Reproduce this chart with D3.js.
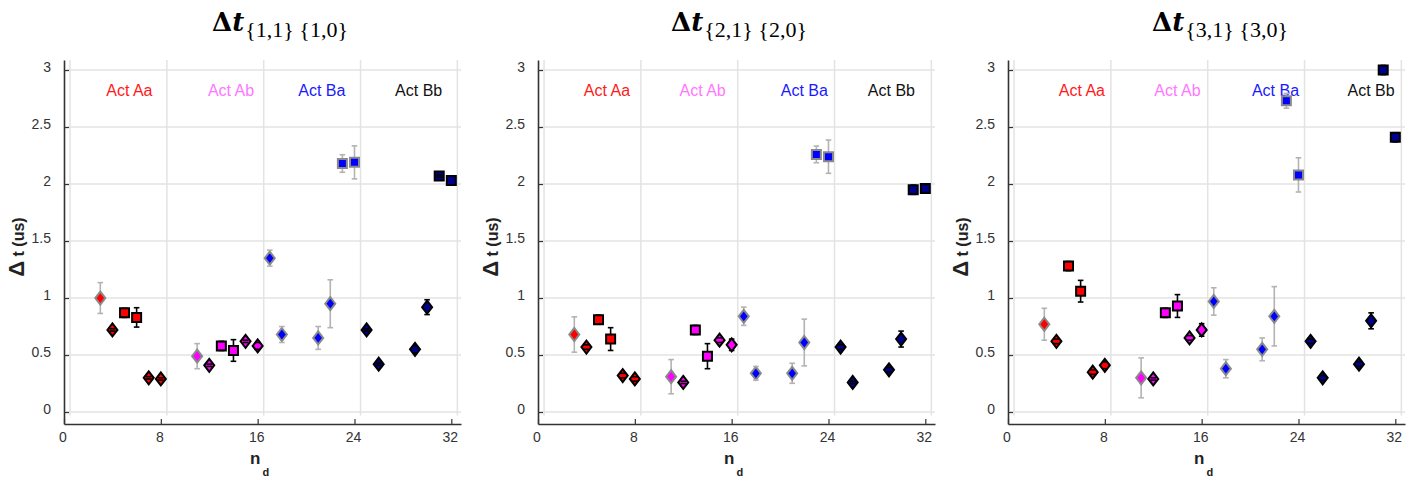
<!DOCTYPE html>
<html>
<head>
<meta charset="utf-8">
<script src="https://cdn.jsdelivr.net/npm/d3@7"></script>
<style>
  html, body { margin: 0; padding: 0; background: #fff; }
  svg { display: block; }
  .tick text { font-family: "Liberation Sans", Arial, sans-serif; font-size: 14px; fill: #333; }
</style>
</head>
<body>
<svg id="chart" width="1415" height="479"></svg>
<script>
// Detector index of each measurement
const nd = [3, 4, 5, 6, 7, 8, 11, 12, 13, 14, 15, 16, 17, 18, 21, 22, 23, 24, 25, 26, 29, 30, 31, 32];
// Activity group of each measurement
const act = ["Aa","Aa","Aa","Aa","Aa","Aa", "Ab","Ab","Ab","Ab","Ab","Ab",
             "Ba","Ba","Ba","Ba","Ba","Ba", "Bb","Bb","Bb","Bb","Bb","Bb"];
// Marker shape and edge tone of each measurement
const shape = ["diamond","diamond","square","square","diamond","diamond",
               "diamond","diamond","square","square","diamond","diamond",
               "diamond","diamond","diamond","diamond","square","square",
               "diamond","diamond","diamond","diamond","square","square"];
const edge = ["grey","black","black","black","black","black",
              "grey","black","black","black","black","black",
              "grey","grey","grey","grey","grey","grey",
              "black","black","black","black","black","black"];

// Δt {1,1}{1,0}
const dt11 = [1.00, 0.72, 0.87, 0.83, 0.30, 0.29, 0.49, 0.41, 0.58, 0.54, 0.62, 0.58,
              1.35, 0.68, 0.65, 0.95, 2.18, 2.19, 0.72, 0.42, 0.55, 0.92, 2.07, 2.03];
const err11 = [0.135, 0.01, 0.04, 0.085, 0.01, 0.01, 0.11, 0.01, 0.04, 0.095, 0.01, 0.03,
               0.07, 0.07, 0.10, 0.21, 0.077, 0.145, 0.01, 0.01, 0.03, 0.065, 0.01, 0.04];
// Δt {2,1}{2,0}
const dt21 = [0.68, 0.57, 0.81, 0.64, 0.32, 0.29, 0.31, 0.26, 0.72, 0.49, 0.63, 0.59,
              0.84, 0.34, 0.34, 0.61, 2.26, 2.24, 0.57, 0.26, 0.37, 0.64, 1.95, 1.96];
const err21 = [0.155, 0.02, 0.04, 0.10, 0.02, 0.02, 0.15, 0.01, 0.04, 0.11, 0.02, 0.05,
               0.08, 0.06, 0.088, 0.205, 0.073, 0.146, 0.02, 0.01, 0.02, 0.07, 0.04, 0.035];
// Δt {3,1}{3,0}
const dt31 = [0.77, 0.62, 1.28, 1.06, 0.35, 0.41, 0.30, 0.29, 0.87, 0.93, 0.65, 0.72,
              0.97, 0.38, 0.55, 0.84, 2.73, 2.08, 0.62, 0.30, 0.42, 0.80, 3.00, 2.41];
const err31 = [0.14, 0.02, 0.04, 0.095, 0.02, 0.03, 0.175, 0.01, 0.04, 0.10, 0.02, 0.055,
               0.12, 0.08, 0.10, 0.26, 0.065, 0.15, 0.02, 0.02, 0.02, 0.07, 0.04, 0.04];

// Panel titles: the pair of indices in each subscript
const titleSubs = ["{1,1} {1,0}", "{2,1} {2,0}", "{3,1} {3,0}"];

// Axis ticks
const xTicks = [0, 8, 16, 24, 32];
const yTicks = [0, 0.5, 1, 1.5, 2, 2.5, 3];
// Group separators on the detector axis
const xGrid = [0.5, 8.5, 16.5, 24.5, 32.5];

// Group names and where they sit in each panel (detector units)
const actNames = ["Act Aa", "Act Ab", "Act Ba", "Act Bb"];
const actLabelX = [[5.4, 13.8, 21.3, 29.3], [5.7, 13.6, 22.0, 29.2], [6.1, 14.0, 22.1, 30.0]];
const actLabelY = 2.77;

const fillColor = { Aa: "#ff0000", Ab: "#ff00ff", Ba: "#0000ff", Bb: "#00008f" };
const labelColor = ["#ff1a1a", "#ff77ff", "#1a1aff", "#111111"];
const edgeColor = { grey: "#8a8a8a", black: "#000000" };
const barColor = { grey: "#b3b3b3", black: "#000000" };

const panels = [
  { vals: dt11, errs: err11, left: 64, titleX: 216 },
  { vals: dt21, errs: err21, left: 538, titleX: 201 },
  { vals: dt31, errs: err31, left: 1008, titleX: 212 }
];

const W = 397, H = 364, TOP = 60;
const svg = d3.select("#chart");

panels.forEach((p, pi) => {
  const g = svg.append("g").attr("transform", `translate(${p.left},${TOP})`);
  const x = d3.scaleLinear().domain([0, 32.8]).range([0, W]);
  const y = d3.scaleLinear().domain([-0.105, 3.088]).range([H, 0]);

  // grid
  g.append("g").selectAll("line").data(yTicks).join("line")
    .attr("x1", x(0.2)).attr("x2", W)
    .attr("y1", d => y(d)).attr("y2", d => y(d))
    .attr("stroke", "#e3e3e3").attr("stroke-width", 1.5);
  g.append("g").selectAll("line").data(xGrid).join("line")
    .attr("x1", d => x(d)).attr("x2", d => x(d))
    .attr("y1", 0).attr("y2", y(-0.03))
    .attr("stroke", "#e3e3e3").attr("stroke-width", 1.5);

  // axes
  const ya = g.append("g")
    .call(d3.axisLeft(y).tickValues(yTicks).tickSize(-5).tickSizeOuter(0).tickPadding(13)
      .tickFormat(d3.format("~g")));
  ya.selectAll(".tick text").attr("dy", "0.12em");
  const xa = g.append("g").attr("transform", `translate(0,${H})`)
    .call(d3.axisBottom(x).tickValues(xTicks).tickSize(-5).tickSizeOuter(0).tickPadding(8));
  xa.selectAll(".tick text").attr("dx", -1.5);
  [ya, xa].forEach(a => {
    a.select(".domain").attr("stroke", "#333").attr("stroke-width", 1.6);
    a.selectAll(".tick line").attr("stroke", "#333").attr("stroke-width", 1.2);
  });

  // group labels
  g.append("g").selectAll("text").data(actNames).join("text")
    .attr("x", (d, i) => x(actLabelX[pi][i]))
    .attr("y", y(actLabelY))
    .attr("text-anchor", "middle")
    .attr("font-family", "Liberation Sans, Arial, sans-serif")
    .attr("font-size", 16)
    .attr("fill", (d, i) => labelColor[i])
    .text(d => d);

  const pts = nd.map((n, i) => ({
    n, v: p.vals[i], e: p.errs[i], act: act[i], shape: shape[i], edge: edge[i]
  }));

  // error bar stems (behind markers)
  g.append("g").selectAll("line").data(pts).join("line")
    .attr("x1", d => x(d.n)).attr("x2", d => x(d.n))
    .attr("y1", d => y(d.v + d.e)).attr("y2", d => y(d.v - d.e))
    .attr("stroke", d => barColor[d.edge]).attr("stroke-width", 1.6);

  // markers
  const diamond = "M0,-6.5L5,0L0,6.5L-5,0Z";
  const square = "M-4.5,-4.5H4.5V4.5H-4.5Z";
  g.append("g").selectAll("path").data(pts).join("path")
    .attr("transform", d => `translate(${x(d.n)},${y(d.v)})`)
    .attr("d", d => d.shape === "diamond" ? diamond : square)
    .attr("fill", d => fillColor[d.act])
    .attr("stroke", d => edgeColor[d.edge])
    .attr("stroke-width", 2)
    .attr("stroke-linejoin", "miter");

  // error bar caps (on top)
  const caps = g.append("g");
  [1, -1].forEach(s => {
    caps.append("g").selectAll("line").data(pts).join("line")
      .attr("x1", d => x(d.n) - 2.8).attr("x2", d => x(d.n) + 2.8)
      .attr("y1", d => y(d.v + s * d.e)).attr("y2", d => y(d.v + s * d.e))
      .attr("stroke", d => barColor[d.edge]).attr("stroke-width", 1.6);
  });

  // title
  const t = svg.append("text")
    .attr("x", p.left + p.titleX).attr("y", 31)
    .attr("text-anchor", "middle")
    .attr("fill", "#000");
  t.append("tspan").attr("font-family", "DejaVu Serif, serif")
    .attr("font-size", 26).attr("font-weight", "bold").text("Δ");
  t.append("tspan").attr("font-family", "DejaVu Serif, serif")
    .attr("font-size", 26).attr("font-weight", "bold").attr("font-style", "italic").text("t");
  t.append("tspan").attr("font-family", "Liberation Serif, serif")
    .attr("font-size", 22).attr("dy", 6).attr("dx", 1).text(titleSubs[pi]);

  // axis titles
  svg.append("text")
    .attr("transform", `translate(${p.left - 40},${247}) rotate(-90)`)
    .attr("text-anchor", "middle")
    .attr("font-family", "Liberation Sans, Arial, sans-serif")
    .attr("font-weight", "bold").attr("fill", "#222")
    .call(s => {
      s.append("tspan").attr("font-size", 22).text("Δ");
      s.append("tspan").attr("font-size", 16).text(" t (us)");
    });
  const xl = svg.append("text")
    .attr("x", p.left + 186).attr("y", 464)
    .attr("font-family", "Liberation Sans, Arial, sans-serif")
    .attr("font-weight", "bold").attr("fill", "#222");
  xl.append("tspan").attr("font-size", 17).text("n");
  xl.append("tspan").attr("font-size", 11).attr("dx", 2).attr("dy", 12).text("d");
});
</script>
</body>
</html>
